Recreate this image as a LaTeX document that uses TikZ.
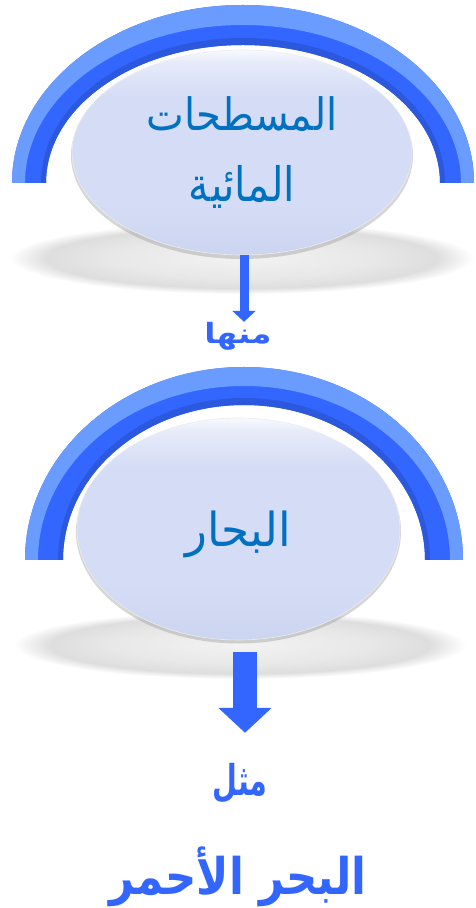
\documentclass[tikz,border=0pt]{standalone}
\usepackage{fontspec}
\usetikzlibrary{shapes.geometric,arrows.meta,calc}
\TeXXeTstate=1
\newfontfamily\arabicfont[Script=Arabic]{DejaVu Sans}
\definecolor{bandmain}{HTML}{3366FF}
\definecolor{bandlight}{HTML}{6A9BFF}
\definecolor{banddark}{HTML}{2B58DC}
\definecolor{ovaltext}{HTML}{0070C0}
\definecolor{labelblue}{HTML}{3366FF}
\definecolor{ovalmain}{HTML}{D5DDF6}
\definecolor{ovallow}{HTML}{CCD5F0}
\definecolor{ovaltop}{HTML}{F7F9FE}
\pgfdeclareverticalshading{ovalshade}{100bp}{color(0bp)=(ovallow); color(25bp)=(ovallow); color(38bp)=(ovalmain); color(64bp)=(ovalmain); color(72bp)=(ovaltop!50!ovalmain); color(75bp)=(ovaltop); color(100bp)=(ovaltop)}
\pgfdeclareradialshading{haze}{\pgfpoint{0bp}{0bp}}{color(0bp)=(black!5); color(14bp)=(black!9); color(21bp)=(black!13); color(25bp)=(white); color(50bp)=(white)}
\newcommand{\bandfill}[7]{%
  \fill[#7] (#1-#3,#2) arc[start angle=180,end angle=0,x radius=#3,y radius=#4]
    -- (#1+#5,#2) arc[start angle=0,end angle=180,x radius=#5,y radius=#6] -- cycle;}
\tikzset{
  oval/.style={ellipse, inner sep=0pt, shading=ovalshade, draw=white!85!gray, line width=0.6pt, text=ovaltext, align=center},
  lbl/.style={inner sep=0pt, text=labelblue},
  thinarrow/.style={draw=labelblue, line width=9pt, -{Triangle[width=23pt,length=11pt]}},
  thickarrow/.style={draw=labelblue, line width=24pt, -{Triangle[width=52pt,length=25pt]}}
}
\begin{document}
\begin{tikzpicture}[x=1pt,y=1pt]
\useasboundingbox (0,0) rectangle (475,908);
\fill[white] (0,0) rectangle (475,908);
% ---- top group ----
\bandfill{243}{725}{231}{178}{197}{138}{bandmain}
\bandfill{243}{725}{231}{178}{218}{158}{bandlight}
\bandfill{243}{725}{202}{145}{197}{138}{banddark}
\shade[shading=haze] (242,650) ellipse[x radius=232, y radius=36];
\fill[black!40, opacity=0.4] (242,752.5) ellipse[x radius=171, y radius=103.5];
\node[oval, minimum width=340pt, minimum height=205pt] (n1) at (242,755.5)
  {\resizebox*{191pt}{35pt}{\arabicfont\beginR المسطحات\endR}\\[32pt]\resizebox*{106pt}{43pt}{\arabicfont\beginR المائية\endR}};
\coordinate (a1x) at (244,0);
\node[lbl] (l1) at (238,572) {\resizebox*{67pt}{28pt}{\arabicfont\bfseries\beginR منها\endR}};
\draw[thinarrow] (n1.south -| a1x) -- (l1.north -| a1x);
% ---- bottom group ----
\bandfill{244}{348}{219}{193}{181}{155}{bandmain}
\bandfill{244}{348}{219}{193}{206}{174}{bandlight}
\bandfill{244}{348}{186}{162}{181}{155}{banddark}
\shade[shading=haze] (240,263) ellipse[x radius=226, y radius=34];
\fill[black!40, opacity=0.4] (238.5,376.5) ellipse[x radius=162.5, y radius=112];
\node[oval, minimum width=323pt, minimum height=222pt] (n2) at (238.5,379)
  {\raisebox{-18pt}[0pt][0pt]{\resizebox*{105pt}{47pt}{\arabicfont\beginR البحار\endR}}};
\coordinate (a2x) at (245,0);
\node[lbl] (l2) at (240,125) {\resizebox*{55pt}{40pt}{\arabicfont\bfseries\beginR مثل\endR}};
\node[lbl] (l3) at (238,31) {\resizebox*{257pt}{60pt}{\arabicfont\bfseries\beginR البحر الأحمر\endR}};
\draw[thickarrow, shorten <=12pt, shorten >=30pt] (n2.south -| a2x) -- (l2.north -| a2x);
\end{tikzpicture}
\end{document}
